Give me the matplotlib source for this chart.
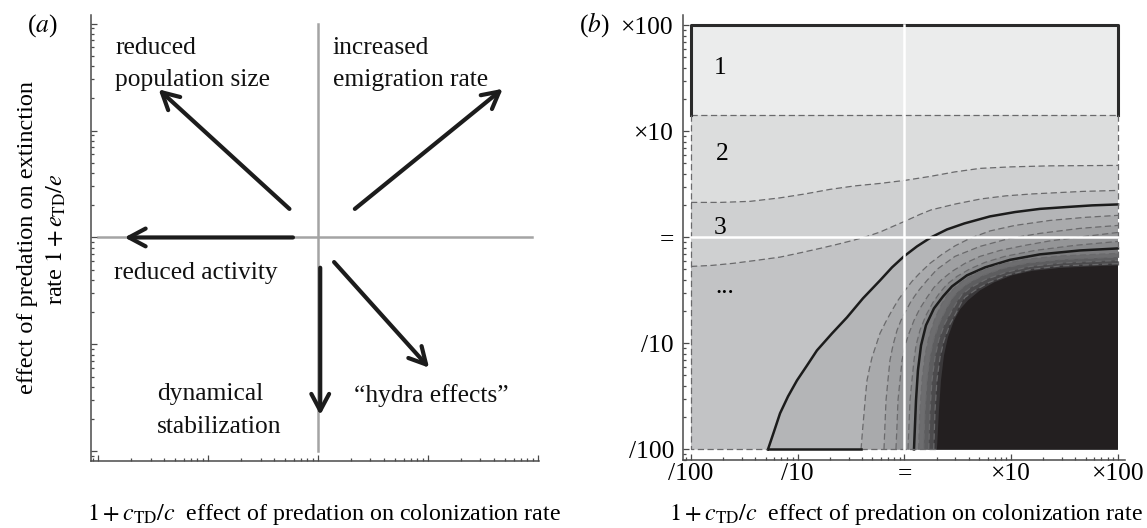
#!/usr/bin/env python3
import matplotlib
matplotlib.use("Agg")
import matplotlib.pyplot as plt
from matplotlib.ticker import FixedLocator, LogLocator, NullFormatter, FixedFormatter

plt.rcParams["font.family"] = ["Liberation Serif", "DejaVu Serif"]
plt.rcParams["mathtext.fontset"] = "stix"
plt.rcParams["lines.scale_dashes"] = False

FONT_SIZE = 18.4
LABEL_SIZE = 17.3
W, H = 1147, 528

# ---- panel (a): arrows, positions as log10 of the factor (x: colonization, y: extinction)
ARROW_FROM = [(-0.26, 0.267), (0.335, 0.267), (-0.228, 0.0), (0.02, -0.283), (0.146, -0.23)]
ARROW_TO = [(-1.45, 1.385), (1.68, 1.39), (-1.76, 0.0), (0.02, -1.66), (1.01, -1.218)]
EFFECT_LABELS = ["reduced\npopulation size", "increased\nemigration rate", "reduced activity",
                 "dynamical\nstabilization", "\u201chydra effects\u201d"]
# anchor = baseline of the last line
EFFECT_LABEL_POS = [(-1.845, 1.416), (0.133, 1.416), (-1.855, -0.393), (-1.464, -1.825), (0.328, -1.542)]
GUIDE_SPAN_A = (-2.0, 2.0)
HLINE_END_A = 1.95

# ---- panel (b): contour lines, log10 of factor, top to bottom
CONTOUR_A = [(-2.0, 1.156), (2.0, 1.156)]
CONTOUR_B = [(-2.0, 0.330), (-1.728, 0.330), (-1.447, 0.340), (-1.166, 0.373), (-0.932, 0.410),
             (-0.698, 0.453), (-0.464, 0.486), (-0.230, 0.509), (0.005, 0.538), (0.239, 0.575),
             (0.473, 0.618), (0.707, 0.651), (0.988, 0.665), (1.363, 0.675), (2.0, 0.679)]
CONTOUR_C = [(-2.0, -0.274), (-1.803, -0.264), (-1.607, -0.245), (-1.391, -0.217), (-1.166, -0.186),
             (-0.979, -0.146), (-0.792, -0.104), (-0.632, -0.066), (-0.482, -0.028), (-0.351, 0.009),
             (-0.230, 0.050), (-0.108, 0.104), (0.021, 0.160), (0.145, 0.217), (0.248, 0.259),
             (0.482, 0.316), (0.717, 0.363), (0.951, 0.392), (1.194, 0.410), (1.672, 0.434), (2.0, 0.443)]
CONTOUR_D = [(-1.279, -2.0), (-1.222, -1.830), (-1.166, -1.660), (-1.091, -1.500), (-1.007, -1.349),
             (-0.913, -1.208), (-0.820, -1.066), (-0.679, -0.906), (-0.539, -0.755), (-0.389, -0.575),
             (-0.229, -0.406), (-0.117, -0.283), (-0.005, -0.179), (0.117, -0.085), (0.248, 0.0),
             (0.398, 0.075), (0.562, 0.132), (0.801, 0.198), (1.035, 0.239), (1.269, 0.269),
             (1.513, 0.286), (1.757, 0.302), (2.0, 0.311)]
CONTOUR_E = [(-0.407, -2.0), (-0.393, -1.821), (-0.379, -1.660), (-0.365, -1.491), (-0.351, -1.349),
             (-0.328, -1.236), (-0.304, -1.132), (-0.267, -1.019), (-0.230, -0.906), (-0.173, -0.792),
             (-0.117, -0.689), (-0.061, -0.594), (0.005, -0.5), (0.070, -0.415), (0.145, -0.335),
             (0.239, -0.245), (0.351, -0.160), (0.473, -0.080), (0.614, -0.009), (0.801, 0.061),
             (1.035, 0.113), (1.363, 0.160), (1.691, 0.189), (2.0, 0.208)]
CONTOUR_F = [(-0.192, -2.0), (-0.183, -1.774), (-0.173, -1.538), (-0.155, -1.349), (-0.136, -1.160),
             (-0.108, -1.019), (-0.070, -0.877), (-0.033, -0.783), (0.005, -0.708), (0.061, -0.604),
             (0.126, -0.509), (0.211, -0.406), (0.304, -0.302), (0.473, -0.179), (0.707, -0.085),
             (0.988, -0.009), (1.269, 0.038), (1.644, 0.085), (2.0, 0.113)]
CONTOUR_G = [(-0.080, -2.0), (-0.070, -1.774), (-0.061, -1.538), (-0.042, -1.349), (-0.023, -1.160),
             (0.005, -1.019), (0.042, -0.906), (0.089, -0.783), (0.145, -0.670), (0.211, -0.566),
             (0.276, -0.472), (0.351, -0.396), (0.445, -0.321), (0.567, -0.245), (0.707, -0.179),
             (0.895, -0.123), (1.129, -0.075), (1.363, -0.033), (1.691, 0.009), (2.0, 0.047)]
CONTOUR_G2 = [(0.033, -2.0), (0.042, -1.774), (0.052, -1.538), (0.070, -1.349), (0.089, -1.160),
              (0.108, -1.019), (0.145, -0.877), (0.201, -0.736), (0.267, -0.613), (0.333, -0.519),
              (0.398, -0.443), (0.492, -0.368), (0.614, -0.297), (0.754, -0.236), (0.941, -0.179),
              (1.222, -0.123), (1.597, -0.075), (2.0, -0.038)]
CONTOUR_H = [(0.089, -2.0), (0.108, -1.538), (0.126, -1.255), (0.155, -1.019), (0.201, -0.830),
             (0.276, -0.670), (0.361, -0.557), (0.445, -0.462), (0.585, -0.358), (0.754, -0.283),
             (0.988, -0.212), (1.269, -0.160), (1.644, -0.123), (2.0, -0.104)]
CONTOUR_I1 = [(0.132, -2.0), (0.145, -1.632), (0.164, -1.349), (0.192, -1.113), (0.230, -0.934),
              (0.286, -0.764), (0.351, -0.623), (0.407, -0.538), (0.473, -0.472), (0.567, -0.396),
              (0.707, -0.321), (0.895, -0.255), (1.129, -0.208), (1.457, -0.175), (2.0, -0.151)]
CONTOUR_I2 = [(0.179, -2.0), (0.192, -1.632), (0.211, -1.349), (0.239, -1.123), (0.276, -0.953),
              (0.333, -0.792), (0.398, -0.660), (0.454, -0.566), (0.506, -0.505), (0.595, -0.434),
              (0.735, -0.358), (0.923, -0.292), (1.157, -0.241), (1.475, -0.208), (2.0, -0.186)]
CONTOUR_I3 = [(0.227, -2.0), (0.239, -1.632), (0.258, -1.349), (0.286, -1.132), (0.323, -0.962),
              (0.379, -0.811), (0.445, -0.689), (0.501, -0.594), (0.539, -0.538), (0.623, -0.472),
              (0.763, -0.396), (0.951, -0.330), (1.176, -0.274), (1.475, -0.241), (2.0, -0.217)]
CONTOUR_I4 = [(0.274, -2.0), (0.286, -1.632), (0.304, -1.349), (0.333, -1.132), (0.370, -0.972),
              (0.426, -0.821), (0.482, -0.717), (0.529, -0.623), (0.567, -0.566), (0.660, -0.500),
              (0.792, -0.425), (0.970, -0.354), (1.185, -0.302), (1.466, -0.269), (2.0, -0.248)]
CONTOUR_BLACK = [(0.304, -2.0), (0.323, -1.632), (0.342, -1.349), (0.370, -1.113), (0.407, -0.943),
                 (0.464, -0.783), (0.520, -0.679), (0.595, -0.594), (0.707, -0.500), (0.838, -0.425),
                 (1.007, -0.358), (1.194, -0.316), (1.457, -0.288), (1.738, -0.274), (2.0, -0.264)]

CONTOURS = [CONTOUR_A, CONTOUR_B, CONTOUR_C, CONTOUR_D, CONTOUR_E, CONTOUR_F, CONTOUR_G,
            CONTOUR_G2, CONTOUR_H, CONTOUR_I1, CONTOUR_I2, CONTOUR_I3, CONTOUR_I4, CONTOUR_BLACK]
CONTOUR_SOLID = [False, False, False, True, False, False, False, False, True,
                 False, False, False, False, None]
REGION_COLORS = ["#ebecec", "#dcdddd", "#cfd0d1", "#c2c3c5", "#b4b5b7", "#a9aaac", "#9fa0a2",
                 "#949597", "#898a8c", "#7c7c7e", "#6d6d6f", "#5d5d5f", "#4c4b4d", "#3a383a",
                 "#231f20"]
REGION_LABELS = ["1", "2", "3", "..."]
REGION_LABEL_POS = [(-1.725, 1.6), (-1.711, 0.79), (-1.725, 0.092), (-1.683, -0.47)]
FIELD_SPAN = (-2.0, 2.0)

FACTOR_TICKS = [-2, -1, 0, 1, 2]
FACTOR_LABELS = ["/100", "/10", "=", "\u00d710", "\u00d7100"]

X_LABEL = r"$1+c_{\mathrm{TD}}/c$  effect of predation on colonization rate"
Y_LABEL_A = ["effect of predation on extinction", r"rate $1+e_{\mathrm{TD}}/e$"]

SPINE = "#4a4a4a"
INK = "#1c1c1c"
DASH = "#6a6a6c"


def p10(pts):
    return [10 ** x for x, _ in pts], [10 ** y for _, y in pts]


def style_log_axes(ax, xlim, ylim):
    ax.set_xscale("log")
    ax.set_yscale("log")
    ax.set_xlim(10 ** xlim[0], 10 ** xlim[1])
    ax.set_ylim(10 ** ylim[0], 10 ** ylim[1])
    for side in ("top", "right"):
        ax.spines[side].set_visible(False)
    for side in ("left", "bottom"):
        ax.spines[side].set_color(SPINE)
        ax.spines[side].set_linewidth(1.1)
    for axis in (ax.xaxis, ax.yaxis):
        axis.set_major_locator(FixedLocator([10.0 ** t for t in FACTOR_TICKS]))
        axis.set_minor_locator(LogLocator(base=10, subs=range(2, 10), numticks=20))
        axis.set_minor_formatter(NullFormatter())
    ax.tick_params(which="both", direction="in", color=SPINE, width=0.9)
    ax.tick_params(which="major", length=4)
    ax.tick_params(which="minor", length=2.5)


fig = plt.figure(figsize=(W / 100, H / 100), dpi=100)

# ---------------- panel (a)
ax_a = fig.add_axes([91 / W, 1 - 461 / H, 448 / W, 446 / H])
style_log_axes(ax_a, (-2.065, 2.01), (-2.09, 2.08))
ax_a.xaxis.set_major_formatter(NullFormatter())
ax_a.yaxis.set_major_formatter(NullFormatter())

ax_a.plot([1, 1], [10 ** GUIDE_SPAN_A[0], 10 ** GUIDE_SPAN_A[1]], color="#a4a4a4", lw=1.8, zorder=1)
ax_a.plot([10 ** GUIDE_SPAN_A[0], 10 ** HLINE_END_A], [1, 1], color="#a4a4a4", lw=1.8, zorder=1)

for (x0, y0), (x1, y1) in zip(ARROW_FROM, ARROW_TO):
    ax_a.annotate("", xy=(10 ** x1, 10 ** y1), xytext=(10 ** x0, 10 ** y0),
                  arrowprops=dict(arrowstyle="->,head_length=0.6,head_width=0.32",
                                  lw=3.0, color=INK, shrinkA=0, shrinkB=0, mutation_scale=20),
                  zorder=3)

for text, (x, y) in zip(EFFECT_LABELS, EFFECT_LABEL_POS):
    ax_a.text(10 ** x, 10 ** y, text, fontsize=FONT_SIZE, ha="left", va="baseline",
              linespacing=1.6, color="#111111")

fig.text(27 / W, 1 - 32 / H, r"($a$)", fontsize=FONT_SIZE, ha="left", va="baseline")
fig.text(28 / W, 1 - 237 / H, Y_LABEL_A[0], fontsize=LABEL_SIZE + 0.2, rotation=90, ha="center", va="center")
fig.text(56 / W, 1 - 239 / H, Y_LABEL_A[1], fontsize=LABEL_SIZE + 0.2, rotation=90, ha="center", va="center")
fig.text(324 / W, 1 - 520 / H, X_LABEL, fontsize=LABEL_SIZE, ha="center", va="baseline")

# ---------------- panel (b)
ax_b = fig.add_axes([683 / W, 1 - 460 / H, 442 / W, 445 / H])
style_log_axes(ax_b, (-2.075, 2.066), (-2.1, 2.098))
ax_b.xaxis.set_major_formatter(FixedFormatter(FACTOR_LABELS))
ax_b.yaxis.set_major_formatter(FixedFormatter(FACTOR_LABELS))
ax_b.tick_params(axis="x", which="major", pad=2.5, labelsize=FONT_SIZE)
ax_b.tick_params(axis="y", which="major", pad=6.5, labelsize=FONT_SIZE)

lo, hi = FIELD_SPAN
square = [(lo, lo), (hi, lo), (hi, hi), (lo, hi)]
ax_b.fill(*p10(square), color=REGION_COLORS[0], lw=0, zorder=1)
for curve, color in zip(CONTOURS, REGION_COLORS[1:]):
    poly = curve + [(hi, lo), (curve[0][0], lo)]
    ax_b.fill(*p10(poly), color=color, lw=0, zorder=1)

for curve, solid in zip(CONTOURS, CONTOUR_SOLID):
    if solid is None:
        continue
    if solid:
        ax_b.plot(*p10(curve), color=INK, lw=1.8, zorder=2, solid_joinstyle="round")
    else:
        ax_b.plot(*p10(curve), color=DASH, lw=0.9, ls=(0, (4.5, 2.5)), zorder=2)

# contour pieces lying on the frame of the field
y_a = CONTOUR_A[0][1]
ax_b.plot(*p10([(lo, y_a), (lo, hi), (hi, hi), (hi, y_a)]), color="#2a2a2a", lw=2.2, zorder=3)
edge_dash = dict(color=DASH, lw=0.9, ls=(0, (4.5, 2.5)), zorder=3)
ax_b.plot(*p10([(lo, y_a), (lo, lo), (CONTOUR_D[0][0], lo)]), **edge_dash)
ax_b.plot(*p10([(CONTOUR_E[0][0], lo), (CONTOUR_BLACK[0][0], lo)]), **edge_dash)
ax_b.plot(*p10([(hi, y_a), (hi, CONTOUR_BLACK[-1][1])]), **edge_dash)
ax_b.plot(*p10([(CONTOUR_D[0][0], lo), (CONTOUR_E[0][0], lo)]), color=INK, lw=1.8, zorder=3)

ax_b.plot([1, 1], [10 ** lo, 10 ** hi], color="white", lw=1.8, zorder=4)
ax_b.plot([10 ** lo, 10 ** hi], [1, 1], color="white", lw=1.8, zorder=4)

for text, (x, y) in zip(REGION_LABELS, REGION_LABEL_POS):
    ax_b.text(10 ** x, 10 ** y, text, fontsize=FONT_SIZE, ha="center", va="center", zorder=5)

fig.text(579 / W, 1 - 32 / H, r"($b$)", fontsize=FONT_SIZE, ha="left", va="baseline")
fig.text(906 / W, 1 - 520 / H, X_LABEL, fontsize=LABEL_SIZE, ha="center", va="baseline")

fig.savefig("out.png", dpi=100)
